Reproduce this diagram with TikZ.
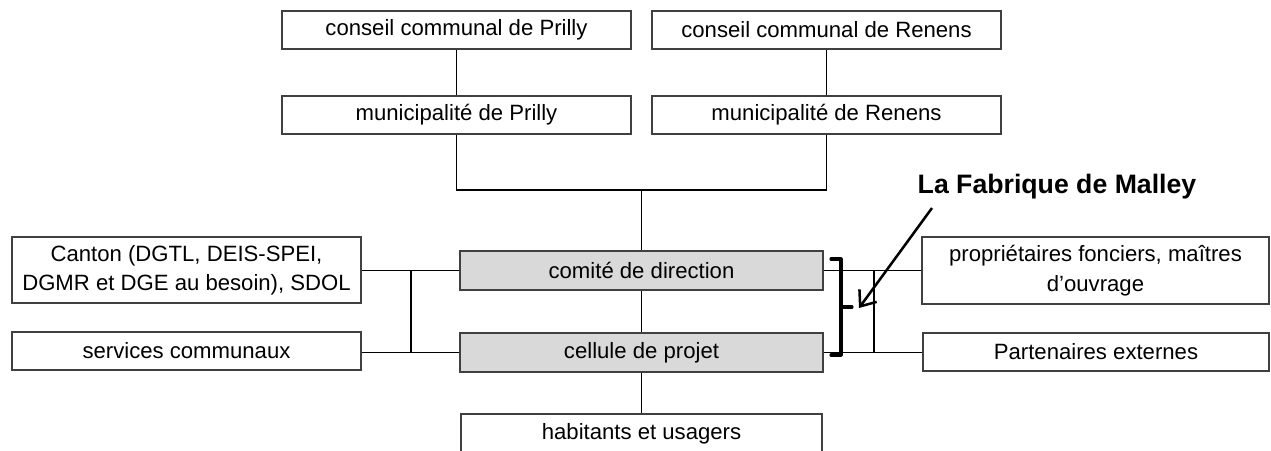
\documentclass[tikz,border=0pt]{standalone}
\usepackage{fontspec}
\setmainfont{Liberation Sans}
\usetikzlibrary{arrows.meta}
\definecolor{boxgray}{HTML}{D9D9D9}
\definecolor{edge}{HTML}{404040}
\tikzset{
  bx/.style n args={2}{draw=edge, line width=0.9pt, fill=white, align=center,
    minimum width=#1*0.75pt, minimum height=#2*0.75pt, inner sep=0pt,
    font=\fontsize{16.6pt}{22pt}\selectfont},
  gbx/.style n args={2}{bx={#1}{#2}, fill=boxgray},
  conn/.style={line width=0.9pt, draw=black},
  brack/.style={line width=2.3pt, line join=round, line cap=round},
  pointer/.style={line width=1.9pt, -{Straight Barb[length=10pt,width=16pt,line width=1.9pt]}},
  title/.style={font=\bfseries\fontsize{20pt}{24pt}\selectfont}
}
\begin{document}
\begin{tikzpicture}[x=0.75pt,y=-0.75pt]
\useasboundingbox (0,0) rectangle (1271,450);
\clip (0,0) rectangle (1271,450);
% top rows
\node[bx={349}{38}] (cp) at (456.5,30) {conseil communal de Prilly};
\node[bx={349}{38}] (cr) at (826.5,30) {conseil communal de Renens};
\node[bx={349}{38}] (mp) at (456.5,115) {municipalité de Prilly};
\node[bx={349}{38}] (mr) at (826.5,115) {municipalité de Renens};
% centre
\node[gbx={363}{39}] (cd) at (641.5,270.5) {comité de direction};
\node[gbx={363}{39}] (cel) at (641.5,352.5) {cellule de projet};
\node[bx={361}{39}] (hab) at (641.5,433.5) {habitants et usagers};
% left
\node[bx={349}{66}] (can) at (186.5,270) {Canton (DGTL, DEIS-SPEI,\\DGMR et DGE au besoin), SDOL};
\node[bx={349}{38}] (serv) at (186.5,351) {services communaux};
% right
\node[bx={347}{67}] (prop) at (1095.5,270.5) {propriétaires fonciers, maîtres\\d’ouvrage};
\node[bx={346}{38}] (part) at (1096,352) {Partenaires externes};
% title
\node[title] (fab) at (1057,187) {La Fabrique de Malley};
% helper coordinates
\coordinate (J) at (641.5,190);
\coordinate (L) at (411,0);
\coordinate (R) at (874,0);
\coordinate (bt) at (831,259);
\coordinate (bb) at (831,355);
\coordinate (bx) at (841,0);
\coordinate (nub) at (852,307);
\coordinate (astart) at (932,208);
\coordinate (atip) at (859,308);
% connectors
\draw[conn] (cp) -- (mp);
\draw[conn] (cr) -- (mr);
\draw[conn] (mp.south) -- (mp.south |- J) -- (mr.south |- J) -- (mr.south);
\draw[conn] (J) -- (cd.north);
\draw[conn] (cd) -- (cel);
\draw[conn] (cel) -- (hab);
\draw[conn] (cd.west) -- (cd.west -| can.east);
\draw[conn] (cel.west) -- (cel.west -| serv.east);
\draw[conn] (L |- cd.west) -- (L |- cel.west);
\draw[conn] (cd.east) -- (cd.east -| prop.west);
\draw[conn] (cel.east) -- (cel.east -| part.west);
\draw[conn] (R |- cd.east) -- (R |- cel.east);
% bracket
\draw[brack] (bt) -- (bx |- bt) -- (bx |- bb) -- (bb);
\draw[brack] (bx |- nub) -- (nub);
% arrow
\draw[pointer] (astart) -- (atip);
\end{tikzpicture}
\end{document}
